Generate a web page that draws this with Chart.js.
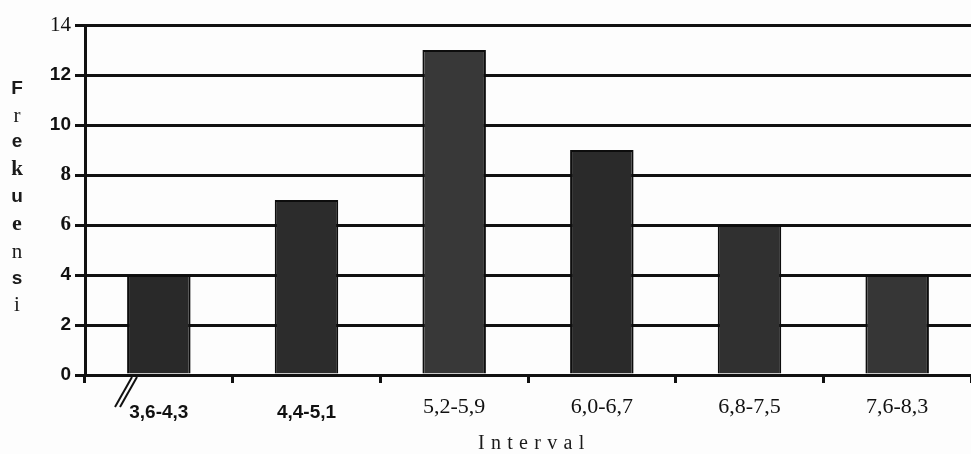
<!DOCTYPE html>
<html>
<head>
<meta charset="utf-8">
<script src="https://cdn.jsdelivr.net/npm/chart.js@4"></script>
<style>
  html, body { margin: 0; padding: 0; background: #fdfdfd; }
  #wrap { width: 971px; height: 454px; }
</style>
</head>
<body>
<div id="wrap"><canvas id="freq_chart"></canvas></div>
<script>
// jshint esversion: 6

const intervals = ['3,6-4,3', '4,4-5,1', '5,2-5,9', '6,0-6,7', '6,8-7,5', '7,6-8,3'];
const frekuensi = [4, 7, 13, 9, 6, 4];
const y_ticks = [0, 2, 4, 6, 8, 10, 12, 14];

// the scan mixes typefaces from label to label
const x_sans = { family: 'Liberation Sans', size: 19, weight: 'bold', lineHeight: 1.95 };
const x_serif = { family: 'Liberation Serif', size: 22, weight: 'normal', lineHeight: 1.2 };
const y_sans = { family: 'Liberation Sans', size: 19, weight: 'bold' };
const y_serif = { family: 'Liberation Serif', size: 21, weight: 'normal' };
const y_serif_bold = { family: 'Liberation Serif', size: 21, weight: 'bold' };
const y_fonts = { 0: y_sans, 2: y_sans, 4: y_sans, 6: y_serif_bold, 8: y_serif_bold, 10: y_sans, 12: y_sans, 14: y_serif };

const title_letters = [
    ['F', 'bold 19px "Liberation Sans"'],
    ['r', '21px "Liberation Serif"'],
    ['e', 'bold 19px "Liberation Sans"'],
    ['k', 'bold 21px "Liberation Serif"'],
    ['u', 'bold 19px "Liberation Sans"'],
    ['e', 'bold 22px "Liberation Serif"'],
    ['n', '21px "Liberation Serif"'],
    ['s', 'bold 19px "Liberation Sans"'],
    ['i', '21px "Liberation Serif"']
];
const title_y = [89, 116, 142, 170, 197, 224, 252, 279, 305];

const axis_titles = {
    id: 'axis_titles',
    afterDraw(chart) {
        const c = chart.ctx;
        const area = chart.chartArea;
        c.save();
        c.fillStyle = '#1a1a1a';
        c.textAlign = 'center';
        c.textBaseline = 'middle';
        title_letters.forEach(function(item, i) {
            c.font = item[1];
            c.fillText(item[0], 17, title_y[i]);
        });
        c.font = '20px "Liberation Serif"';
        c.textAlign = 'left';
        const word = 'Interval';
        let x = 478;
        for (const ch of word) {
            c.fillText(ch, x, area.bottom + 69);
            x += c.measureText(ch).width + 6.3;
        }
        // axis break mark
        c.strokeStyle = '#111';
        c.lineWidth = 2;
        for (let k = 0; k < 2; k++) {
            c.beginPath();
            c.moveTo(area.left + 47 + k * 5, area.bottom + 2);
            c.lineTo(area.left + 30 + k * 5, area.bottom + 32);
            c.stroke();
        }
        c.restore();
    }
};

const ctx = document.getElementById('freq_chart').getContext('2d');
let myChart = new Chart(ctx, {
    type: 'bar',
    data: {
        labels: intervals,
        datasets: [{
            label: 'Frekuensi',
            data: frekuensi,
            backgroundColor: ['#292929', '#2c2c2c', '#383838', '#2a2a2a', '#303030', '#363636'],
            borderColor: '#0d0d0d',
            borderWidth: 2,
            borderSkipped: 'bottom',
            categoryPercentage: 1,
            barPercentage: 0.43
        }]
    },
    plugins: [axis_titles],
    options: {
        responsive: true,
        maintainAspectRatio: false,
        animation: false,
        layout: { padding: { top: 25, right: 0, left: 0, bottom: 0 } },
        plugins: {
            legend: { display: false },
            tooltip: { enabled: false }
        },
        scales: {
            x: {
                afterFit(scale) { scale.height = 79; },
                grid: {
                    drawOnChartArea: false,
                    drawTicks: true,
                    tickLength: 8,
                    lineWidth: 3,
                    color: '#111'
                },
                border: { display: false },
                ticks: {
                    color: '#111',
                    padding: 11,
                    maxRotation: 0,
                    font: function(c) { return c.index < 2 ? x_sans : x_serif; }
                }
            },
            y: {
                min: 0,
                max: 14,
                afterFit(scale) { scale.width = 85; },
                afterBuildTicks(scale) { scale.ticks = y_ticks.map(v => ({ value: v })); },
                grid: {
                    color: '#111',
                    lineWidth: 3,
                    tickLength: 10
                },
                border: { color: '#111', width: 3 },
                ticks: {
                    color: '#111',
                    padding: 4,
                    font: function(c) {
                        return (c.tick && y_fonts[c.tick.value]) || y_sans;
                    }
                }
            }
        }
    }
});
</script>
</body>
</html>
